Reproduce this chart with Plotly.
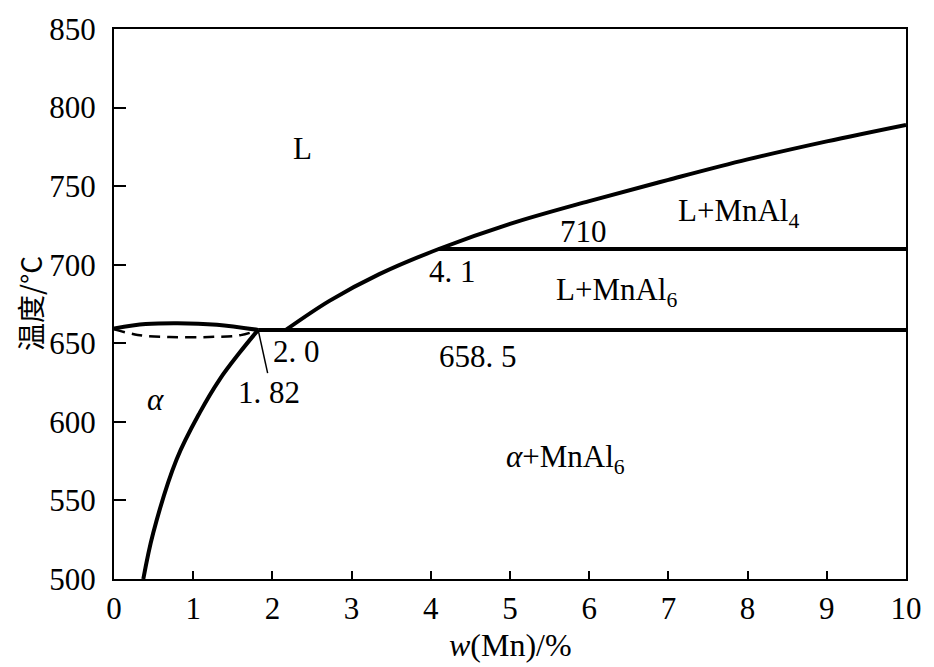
import plotly.graph_objects as go

# ---- data ----
liq_x = [2.17, 2.72, 3.35, 4.1, 5.0, 6.0, 7.0, 8.0, 9.0, 10.0]
liq_y = [658.5, 677, 694, 710, 726, 740.5, 754, 767, 778.5, 789]

sol_x = [0.37, 0.495, 0.79, 1.083, 1.335, 1.587, 1.82]
sol_y = [500, 529.3, 576.1, 605.9, 627.1, 644.1, 658.5]

arc_x = [0.0, 0.4, 0.8, 1.3, 1.82]
arc_y = [659.4, 662.2, 662.8, 661.8, 658.5]

dash_x = [0.0, 0.3, 0.7, 1.2, 1.6, 1.82]
dash_y = [659.0, 655.3, 654.0, 654.0, 655.2, 658.5]

eut_x = [1.82, 10.0]
eut_y = [658.5, 658.5]
per_x = [4.1, 10.0]
per_y = [710, 710]
lead_x = [1.82, 1.94]
lead_y = [658.5, 631]

x_ticks = [0, 1, 2, 3, 4, 5, 6, 7, 8, 9, 10]
y_ticks = [500, 550, 600, 650, 700, 750, 800, 850]

labels = ["L", "L+MnAl<sub>4</sub>", "710", "4. 1", "L+MnAl<sub>6</sub>",
          "2. 0", "658. 5", "1. 82", "<i>α</i>", "<i>α</i>+MnAl<sub>6</sub>"]
label_x = [2.38, 7.1, 5.93, 4.27, 5.55, 2.30, 4.6, 1.96, 0.52, 4.93]
label_y = [773.9, 733.0, 720.9, 695.5, 682.5, 644.5, 641.3, 619.0, 614.0, 576.5]
label_anchor = ["center", "left", "center", "center", "left",
                "center", "center", "center", "center", "left"]

FONT = "Liberation Serif"
FS = 31

fig = go.Figure()
thick = dict(color="black", width=4)
fig.add_trace(go.Scatter(x=liq_x, y=liq_y, mode="lines", line=dict(shape="spline", **thick)))
fig.add_trace(go.Scatter(x=sol_x, y=sol_y, mode="lines", line=dict(shape="spline", **thick)))
fig.add_trace(go.Scatter(x=arc_x, y=arc_y, mode="lines", line=dict(shape="spline", color="black", width=4)))
fig.add_trace(go.Scatter(x=dash_x, y=dash_y, mode="lines",
                         line=dict(shape="spline", color="black", width=2.5, dash="11px,7px")))
fig.add_trace(go.Scatter(x=eut_x, y=eut_y, mode="lines", line=thick))
fig.add_trace(go.Scatter(x=per_x, y=per_y, mode="lines", line=thick))
fig.add_trace(go.Scatter(x=lead_x, y=lead_y, mode="lines", line=dict(color="black", width=1.5)))

for t, x, y, a in zip(labels, label_x, label_y, label_anchor):
    fig.add_annotation(x=x, y=y, text=t, showarrow=False, xanchor=a, yanchor="middle",
                       font=dict(family=FONT, size=FS, color="black"))

# axis titles
fig.add_annotation(xref="paper", yref="paper", x=0.5, y=0, yanchor="top", xanchor="center",
                   yshift=-46, showarrow=False, text="<i>w</i>(Mn)/%",
                   font=dict(family=FONT, size=32, color="black"))
fig.add_annotation(xref="paper", yref="paper", x=0, y=0.5, xanchor="center", yanchor="middle",
                   xshift=-84, showarrow=False, text="温度/°C", textangle=-90,
                   font=dict(family="Noto Sans CJK SC", size=28, color="black"))

axis_common = dict(showline=True, linecolor="black", linewidth=2, mirror=True,
                   showgrid=False, zeroline=False, ticks="inside", tickcolor="black",
                   tickwidth=2, tickfont=dict(family=FONT, size=FS, color="black"))
fig.update_xaxes(range=[0, 10], tickvals=x_ticks, ticklen=8, ticklabelstandoff=1, **axis_common)
fig.update_yaxes(range=[500, 850], tickvals=y_ticks, ticklen=12, ticklabelstandoff=10, **axis_common)

fig.update_layout(width=934, height=667, showlegend=False,
                  margin=dict(l=114, r=26, t=27, b=88),
                  plot_bgcolor="white", paper_bgcolor="white")

fig.write_html("out.html")
